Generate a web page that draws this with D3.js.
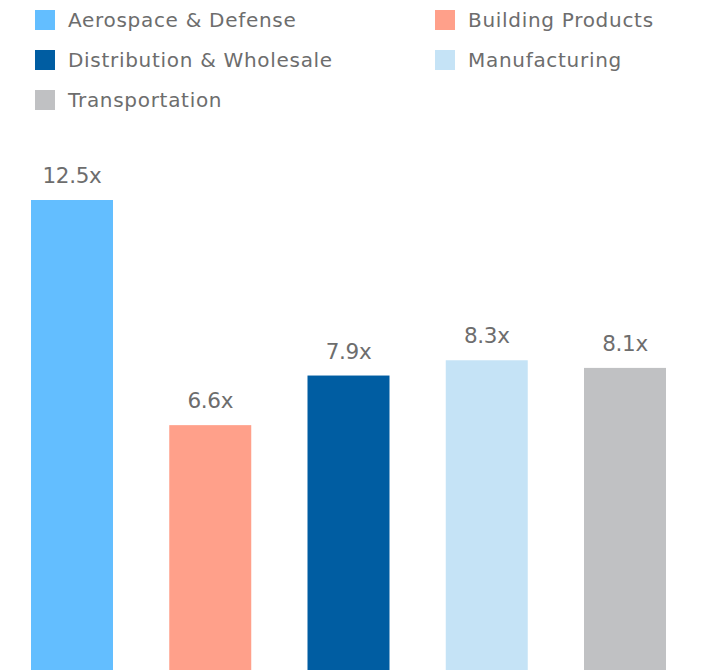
<!DOCTYPE html>
<html><head><meta charset="utf-8">
<script src="https://cdn.jsdelivr.net/npm/d3@7"></script>
<style>html,body{margin:0;padding:0;background:#fff;overflow:hidden}</style>
</head><body>
<svg id="c" width="706" height="670"></svg>
<script>
const categories = ["Aerospace & Defense","Building Products","Distribution & Wholesale","Manufacturing","Transportation"];
const values = [12.5, 6.6, 7.9, 8.3, 8.1];
const labels = ["12.5x","6.6x","7.9x","8.3x","8.1x"];
const colors = ["#63BEFF","#FFA08A","#005DA2","#C5E3F6","#C0C1C3"];

const W = 706, H = 670;
const svg = d3.select("#c");
const font = "'DejaVu Sans', sans-serif";
const textColor = "#6d6d6d";

const x = d3.scaleBand().domain(categories).range([31, 666]).paddingInner(0.4069).paddingOuter(0);
const y = d3.scaleLinear().domain([0, 12.5]).range([677, 200]);

svg.selectAll("rect.bar").data(categories).join("rect").attr("class","bar")
  .attr("x", d => x(d)).attr("width", x.bandwidth())
  .attr("y", (d,i) => y(values[i])).attr("height", (d,i) => y(0) - y(values[i]))
  .attr("fill", (d,i) => colors[i]);

svg.selectAll("text.val").data(categories).join("text").attr("class","val")
  .attr("x", d => x(d) + x.bandwidth()/2)
  .attr("y", (d,i) => y(values[i]) - 17)
  .attr("text-anchor","middle").attr("font-family", font).attr("font-size", 21.5)
  .attr("letter-spacing", -0.3)
  .attr("fill", textColor).text((d,i) => labels[i]);

// legend
const lg = svg.append("g");
categories.forEach((c,i) => {
  const col = i % 2, row = Math.floor(i/2);
  const lx = col === 0 ? 35 : 435, ly = 10 + row*40;
  lg.append("rect").attr("x", lx).attr("y", ly).attr("width",20).attr("height",20).attr("fill", colors[i]);
  lg.append("text").attr("x", lx+33).attr("y", ly+17).attr("font-family", font).attr("font-size",20)
    .attr("letter-spacing", 0.7)
    .attr("fill", textColor).text(c);
});
</script>
</body></html>
